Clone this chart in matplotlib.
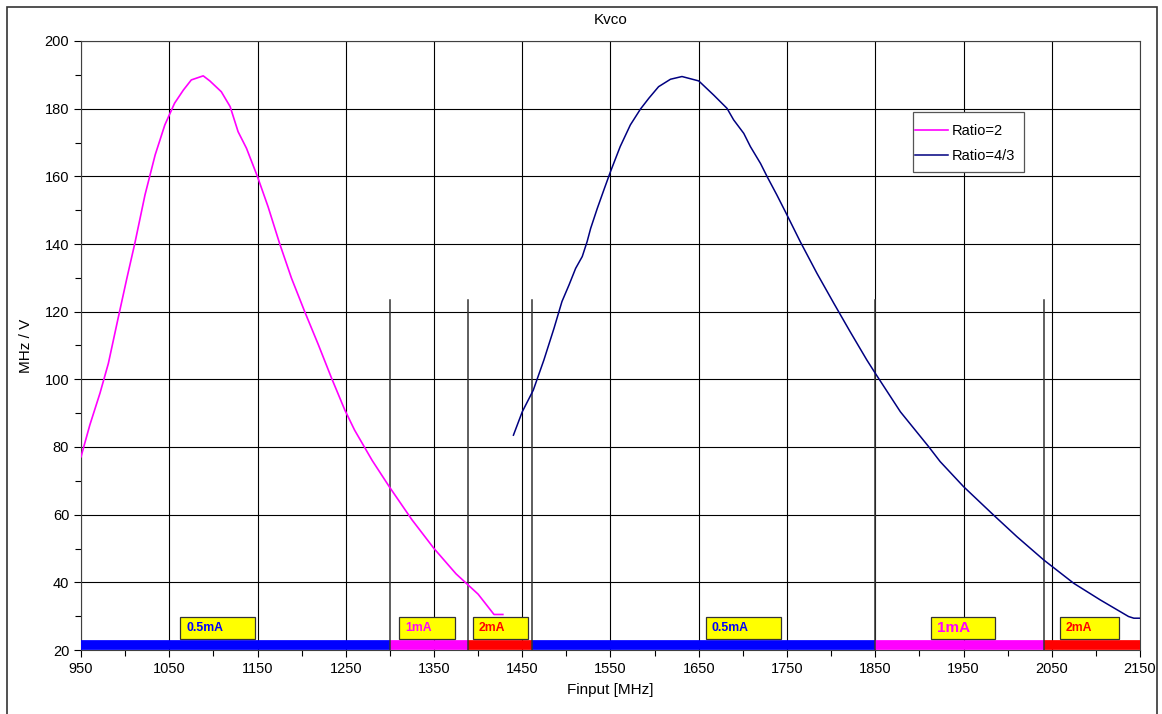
import matplotlib
matplotlib.use("Agg")
import matplotlib.pyplot as plt
from matplotlib.patches import Rectangle

plt.rcParams["font.family"] = ["Liberation Sans", "DejaVu Sans"]

# Ratio=2 curve
x_r2 = [950, 960, 971.5, 981, 992, 1002, 1011, 1022.5, 1034, 1045, 1056, 1066, 1075, 1088.5,
        1096, 1109, 1119, 1128, 1137.5, 1150, 1162, 1175, 1188.5, 1203.5, 1219, 1234, 1249,
        1260, 1280, 1300, 1325, 1350, 1375, 1400, 1418, 1428]
y_r2 = [77.1, 86.5, 95.9, 104.7, 118, 129.9, 140.2, 154.5, 166.3, 175.2, 181.6, 185.5, 188.5, 189.7,
        188.2, 185, 180.6, 173.2, 168.3, 159.9, 151, 140.2, 129.9, 120, 110.2, 100.3, 90.9,
        85, 76, 68, 58.5, 50, 42.5, 36.5, 30.5, 30.5]

# Ratio=4/3 curve
x_r43 = [1440, 1450, 1462.5, 1474.5, 1486, 1495, 1503, 1510.5, 1518, 1523.5, 1527.5, 1535, 1542.5,
         1550, 1561, 1572.5, 1584, 1593.5, 1604.5, 1618, 1631, 1650, 1667, 1682, 1689.5, 1701,
         1708.5, 1720, 1727.5, 1738.5, 1749, 1765, 1784, 1803, 1821.5, 1840.5, 1850, 1878.5,
         1910.5, 1923.5, 1950, 1984, 2010.5, 2041, 2075, 2105, 2137, 2143, 2150]
y_r43 = [83.5, 90.4, 96.8, 105.7, 115.1, 123, 127.9, 132.8, 136.3, 140.7, 144.6, 150.5, 156,
         161.4, 168.8, 175.2, 179.9, 183.1, 186.5, 188.7, 189.5, 188.2, 184, 180.1, 176.7, 172.7,
         168.8, 163.8, 159.9, 154.5, 149.1, 140.7, 131.3, 122.5, 114.1, 105.7, 101.8, 90.4,
         80.1, 75.7, 68.3, 59.9, 53.5, 46.6, 39.7, 34.8, 29.9, 29.4, 29.4]

# current bands along the bottom
band_edges = [950, 1300, 1388.5, 1461, 1850, 2041, 2150]
band_colors = ["#0000FF", "#FF00FF", "#FF0000", "#0000FF", "#FF00FF", "#FF0000"]
band_level = 21.5
marker_x = [1300, 1388.5, 1461, 1850, 2041]
marker_top = 123.5

label_text = ["0.5mA", "1mA", "2mA", "0.5mA", "1mA", "2mA"]
label_x0 = [1062, 1310, 1394, 1658, 1913, 2059]
label_x1 = [1147, 1374, 1456.5, 1743, 1986, 2126]
label_color = ["#0000FF", "#FF00FF", "#FF0000", "#0000FF", "#FF00FF", "#FF0000"]
label_size = [8.8, 8.8, 8.8, 8.8, 11, 8.8]
label_y0, label_y1 = 23.2, 29.7

fig = plt.figure(figsize=(11.62, 7.14), dpi=100)
ax = fig.add_axes([81 / 1162, 64 / 714, 1059 / 1162, 609 / 714])

ax.set_xlim(950, 2150)
ax.set_ylim(20, 200)
ax.set_xticks(range(950, 2151, 100))
ax.set_xticks(range(1000, 2151, 100), minor=True)
ax.set_yticks(range(20, 201, 20))
ax.set_yticks(range(30, 200, 20), minor=True)
ax.grid(True, which="major", color="black", linewidth=0.8)
ax.set_axisbelow(True)
ax.tick_params(which="major", direction="out", length=5, width=0.8, labelsize=10.5)
ax.tick_params(which="minor", direction="out", length=4, width=0.8)
for s in ax.spines.values():
    s.set_linewidth(0.8)
    s.set_color("#404040")

for i in range(len(band_colors)):
    ax.plot([band_edges[i], band_edges[i + 1]], [band_level, band_level],
            color=band_colors[i], linewidth=7, solid_capstyle="butt", zorder=3)

for xm in marker_x:
    ax.plot([xm, xm], [20, marker_top], color="#333333", linewidth=1.1, zorder=3)

for i in range(len(label_text)):
    ax.add_patch(Rectangle((label_x0[i], label_y0), label_x1[i] - label_x0[i], label_y1 - label_y0,
                           facecolor="#FFFF00", edgecolor="#333333", linewidth=0.9, zorder=4))
    ax.text(label_x0[i] + 7, (label_y0 + label_y1) / 2, label_text[i], color=label_color[i],
            fontsize=label_size[i], fontweight="bold", ha="left", va="center", zorder=5)

ax.plot(x_r2, y_r2, color="#FF00FF", linewidth=1.2, label="Ratio=2", zorder=4)
ax.plot(x_r43, y_r43, color="#000080", linewidth=1.1, label="Ratio=4/3", zorder=4)

# legend box drawn by hand, Excel style (tall padding, tight sides)
ax.add_patch(Rectangle((0.7856, 0.7849), 0.1048, 0.0985, transform=ax.transAxes,
                       facecolor="white", edgecolor="#555555", linewidth=0.9, zorder=6))
leg = ax.legend(loc="upper left", bbox_to_anchor=(0.7875, 0.8635), borderaxespad=0,
                fontsize=10.5, frameon=False, handlelength=2.25, borderpad=0,
                labelspacing=0.72, handletextpad=0.3)
leg.set_zorder(7)

ax.set_title("Kvco", fontsize=11, pad=12)
ax.set_xlabel("Finput [MHz]", fontsize=11, labelpad=5)
ax.set_ylabel("MHz / V", fontsize=11, labelpad=8)

fig.patches.append(Rectangle((7 / 1162, -0.01), 1150 / 1162, 707 / 714 + 0.01,
                             transform=fig.transFigure, fill=False, edgecolor="#333333",
                             linewidth=1.2))

fig.savefig("out.png", dpi=100)
